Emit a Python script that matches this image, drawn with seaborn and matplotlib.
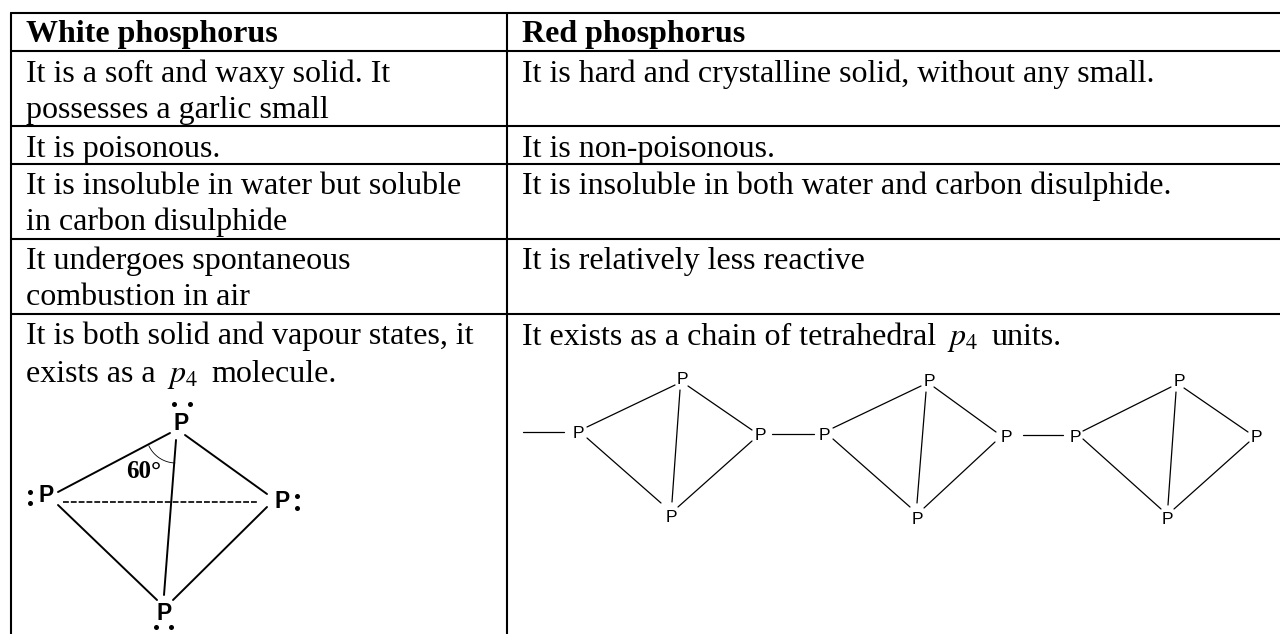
import matplotlib
matplotlib.use('Agg')
import matplotlib.pyplot as plt
import seaborn as sns
import pandas as pd
import numpy as np

# table text
header = ["White phosphorus", "Red phosphorus"]
left_lines = ["It is a soft and waxy solid. It", "possesses a garlic small", "It is poisonous.",
              "It is insoluble in water but soluble", "in carbon disulphide", "It undergoes spontaneous",
              "combustion in air", "It is both solid and vapour states, it", "exists as a"]
left_y = [82, 118, 157, 194, 230, 269, 305, 344, 382]
right_lines = ["It is hard and crystalline solid, without any small.", "It is non-poisonous.",
               "It is insoluble in both water and carbon disulphide.", "It is relatively less reactive",
               "It exists as a chain of tetrahedral"]
right_y = [82, 157, 194, 269, 345]

# table rules, pixels of the page (no rule on the right edge)
col_x = [11, 507]
row_y = [13, 51, 126, 164, 239, 314]
page_right = 1280
page_bottom = 634

# white phosphorus drawing: x1, y1, x2, y2
white_solid = [(58, 492, 170, 433), (185, 435, 267, 494), (58, 505, 157, 600),
               (267, 507, 173, 600), (176, 440, 164, 595)]
white_dashed = [(63, 502, 257, 502)]
white_atoms = [("P", 181, 423), ("P", 46, 496), ("P", 282, 502), ("P", 164, 614)]
white_dots = [(174, 404), (190, 404), (30, 492), (30, 503), (297, 496), (297, 508), (156, 627), (171, 627)]

# red phosphorus chain: x1, y1, x2, y2
red_solid = [(523, 432, 564, 432), (587, 427, 675, 385), (688, 386, 752, 430), (587, 438, 661, 503),
             (752, 441, 678, 507), (680, 390, 672, 502), (772, 434, 814, 434),
             (833, 428, 921, 386), (934, 387, 996, 432), (833, 439, 910, 507), (995, 442, 924, 508),
             (926, 392, 917, 503), (1023, 435, 1063, 435),
             (1083, 431, 1171, 387), (1184, 388, 1248, 432), (1083, 439, 1161, 509), (1249, 442, 1174, 509),
             (1176, 392, 1168, 505)]
red_atoms = [(578, 434), (682, 380), (760, 435), (671, 517), (824, 435), (929, 382), (1006, 437), (917, 519),
             (1075, 437), (1179, 382), (1256, 437), (1167, 519)]


def segments_frame(segs):
    rows = []
    for i, (x1, y1, x2, y2) in enumerate(segs):
        rows.append({"seg": i, "x": x1, "y": y1})
        rows.append({"seg": i, "x": x2, "y": y2})
    return pd.DataFrame(rows)


sns.set_theme(style="white")
plt.rcParams['font.family'] = ['Liberation Serif', 'DejaVu Sans']
plt.rcParams['mathtext.fontset'] = 'stix'
plt.rcParams['text.color'] = 'black'

fig = plt.figure(figsize=(12.8, 6.34), dpi=100)
ax = fig.add_axes([0, 0, 1, 1])

# table grid
grid = [(x, row_y[0], x, page_bottom) for x in col_x] + [(col_x[0], y, page_right, y) for y in row_y]
sns.lineplot(data=segments_frame(grid), x="x", y="y", units="seg", estimator=None, sort=False,
             color="black", linewidth=1.5, ax=ax)

# drawings
sns.lineplot(data=segments_frame(white_solid), x="x", y="y", units="seg", estimator=None, sort=False,
             color="black", linewidth=1.4, ax=ax)
sns.lineplot(data=segments_frame(white_dashed), x="x", y="y", units="seg", estimator=None, sort=False,
             color="black", linewidth=1.2, linestyle=(0, (3.5, 1.2)), ax=ax)
sns.lineplot(data=segments_frame(red_solid), x="x", y="y", units="seg", estimator=None, sort=False,
             color="black", linewidth=0.9, ax=ax)
sns.scatterplot(x=[d[0] for d in white_dots], y=[d[1] for d in white_dots], color="black", s=13,
                linewidth=0, ax=ax)

# 60 degree arc
th = np.linspace(np.radians(92), np.radians(155), 30)
ax.plot(176 + 30 * np.cos(th), 433 + 30 * np.sin(th), color="black", lw=0.6)
ax.text(144, 472, "60°", fontsize=18, fontweight="bold", ha="center", va="center")

# text
fs = 23
ax.text(26, 42, header[0], fontsize=fs, fontweight="bold", va="baseline", ha="left")
ax.text(522, 42, header[1], fontsize=fs, fontweight="bold", va="baseline", ha="left")
for s, y in zip(left_lines, left_y):
    ax.text(26, y, s, fontsize=fs, va="baseline", ha="left")
for s, y in zip(right_lines, right_y):
    ax.text(522, y, s, fontsize=fs, va="baseline", ha="left")
ax.text(167, 382, "$p_4$", fontsize=fs, va="baseline", ha="left")
ax.text(211, 382, "molecule.", fontsize=fs, va="baseline", ha="left")
ax.text(947, 345, "$p_4$", fontsize=fs, va="baseline", ha="left")
ax.text(992, 345, "units.", fontsize=fs, va="baseline", ha="left")

for s, x, y in white_atoms:
    ax.text(x, y, s, fontsize=16.5, fontweight="bold", family="Liberation Sans", ha="center", va="center")
for x, y in red_atoms:
    ax.text(x, y, "P", fontsize=12.5, family="Liberation Sans", ha="center", va="center")

ax.set_xlim(0, 1280)
ax.set_ylim(634, 0)
ax.set_xlabel("")
ax.set_ylabel("")
ax.axis("off")
fig.savefig("out.png", dpi=100)
